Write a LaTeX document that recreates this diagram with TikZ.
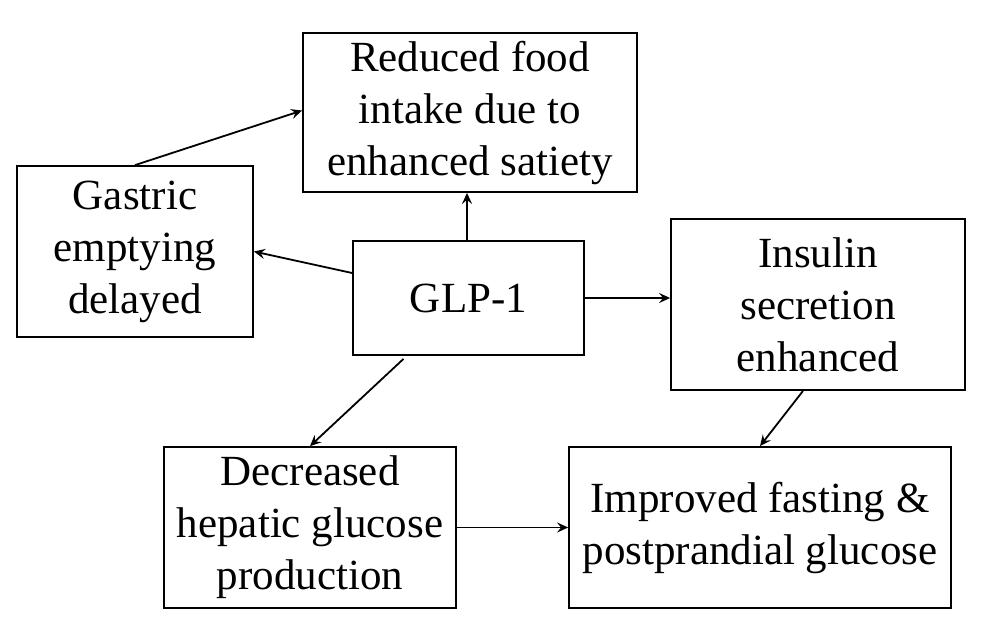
\documentclass[tikz,border=0pt]{standalone}
\usepackage{fontspec}
\setmainfont{Liberation Serif}
\usetikzlibrary{arrows.meta,calc}
\begin{document}
\begin{tikzpicture}[x=1pt,y=-1pt,
  box/.style={draw,line width=1.8pt,align=center,inner sep=0pt,
    font=\fontsize{43}{52}\selectfont},
  arr/.style={line width=1.8pt,-{Stealth[length=11pt,width=10pt,inset=4pt]}}]
\useasboundingbox[fill=white] (0,0) rectangle (986,630);
\node[box,minimum width=334pt,minimum height=159pt] (red) at (470,112.5) {Reduced food\\intake due to\\enhanced satiety};
\node[box,minimum width=236pt,minimum height=171pt] (gas) at (135,251.5) {Gastric\\emptying\\delayed};
\node[box,minimum width=231pt,minimum height=114pt] (glp) at (468.5,298) {GLP-1};
\node[box,minimum width=294pt,minimum height=171pt] (ins) at (818,304.5) {Insulin\\secretion\\enhanced};
\node[box,minimum width=292pt,minimum height=161pt] (dec) at (310,527.5) {Decreased\\hepatic glucose\\production};
\node[box,minimum width=382pt,minimum height=161pt] (imp) at (760,527.5) {Improved fasting \&\\postprandial glucose};
\draw[arr] (gas.north) -- ([yshift=2pt]red.west);
\draw[arr] ([xshift=-1.5pt]glp.north) -- ([xshift=-3pt]red.south);
\draw[arr] ([yshift=25pt]glp.west) -- (gas.east);
\draw[arr] (glp.east) -- (glp.east -| ins.west);
\draw[arr] ([xshift=-65pt,yshift=-3pt]glp.south) -- (dec.north);
\draw[arr] ([xshift=-15pt]ins.south) -- (imp.north);
\draw[arr] (dec.east) -- (imp.west);
\end{tikzpicture}
\end{document}
